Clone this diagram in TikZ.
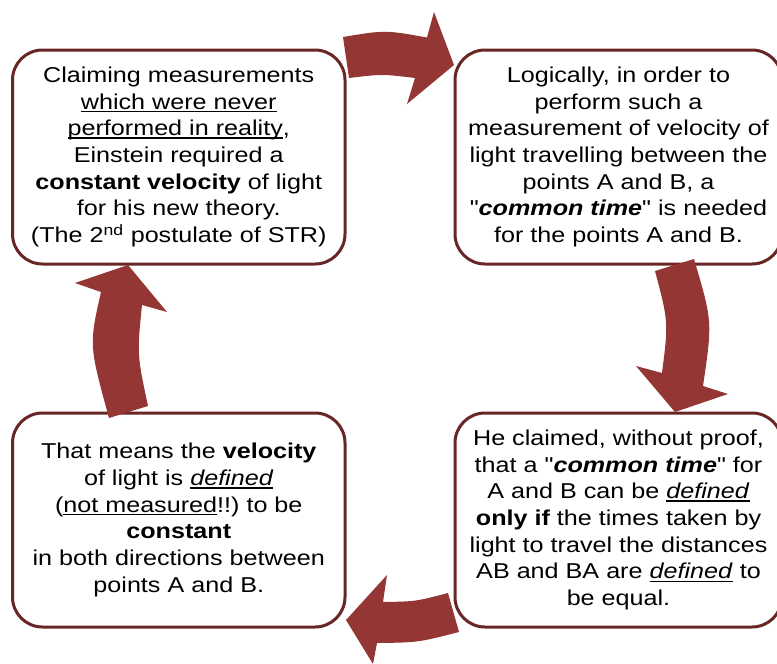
\documentclass[tikz,border=0pt]{standalone}
\usepackage{fontspec}
\setmainfont{Liberation Sans}[FakeStretch=1.17, Ligatures=TeXOff]
\newcommand{\ulin}[1]{\setbox0\hbox{#1}\rlap{\rule[-3.2pt]{\wd0}{1.6pt}}\box0\relax}
\definecolor{boxred}{RGB}{104,38,37}
\definecolor{arrowred}{RGB}{148,54,52}
\frenchspacing
\begin{document}
\begin{tikzpicture}[x=1pt, y=-1pt,
  every node/.style = {shape=rectangle, rounded corners=30pt,
    draw=boxred, line width=3pt, align=center, fill=white,
    font=\fontsize{21.5}{26.7}\selectfont},
  turn/.style = {fill=arrowred, draw=none}]
  \useasboundingbox (0,0) rectangle (777,664);
  \node[minimum width=332.5pt, minimum height=214pt] (claim) at (178.75,157)
    {Claiming measurements\\ \ulin{which were never}\\
     \ulin{performed in reality},\\ Einstein required a\\
     \textbf{constant velocity} of light\\ for his new theory.\\
     (The 2\textsuperscript{nd} postulate of STR)};
  \node[minimum width=327pt, minimum height=214pt] (logic) at (618.5,157)
    {Logically, in order to\\ perform such a\\
     measurement of velocity of\\ light travelling between the\\
     points A and B, a\\ "\textbf{\textit{common time}}" is needed\\
     for the points A and B.};
  \node[minimum width=327pt, minimum height=214pt] (proof) at (618.5,520)
    {He claimed, without proof,\\ that a "\textbf{\textit{common time}}" for\\
     A and B can be \ulin{\textit{defined}}\\
     \textbf{only if} the times taken by\\ light to travel the distances\\
     AB and BA are \ulin{\textit{defined}} to\\ be equal.};
  \node[minimum width=332.5pt, minimum height=214pt] (means) at (178.75,520)
    {That means the \textbf{velocity}\\ of light is \ulin{\textit{defined}}\\
     (\ulin{not measured}!!) to be\\ \textbf{constant}\\
     in both directions between\\ points A and B.};
  % curved block arrows round the cycle
  \fill[turn] (343,37) .. controls (385,30) .. (427,37.5) -- (434,12)
    -- (454,65) -- (407,104) -- (415,78) .. controls (382,74) .. (349,78) -- cycle;
  \fill[turn] (655,271) -- (694,259) .. controls (712.5,321.5) .. (703,386)
    -- (728,394) -- (675,412) -- (636,366) -- (662,373)
    .. controls (668.5,322) .. (655,271) -- cycle;
  \fill[turn] (459,632) -- (448,593) .. controls (415.5,601.5) .. (383,602)
    -- (387,575) -- (346,620) -- (373,664) -- (377,643)
    .. controls (418,642.5) .. (459,632) -- cycle;
  \fill[turn] (109,418) -- (148,406) .. controls (137,354.5) .. (142,305)
    -- (167,312) -- (128,265) -- (75,283) -- (101,292)
    .. controls (89,345) .. (109,418) -- cycle;
\end{tikzpicture}
\end{document}
